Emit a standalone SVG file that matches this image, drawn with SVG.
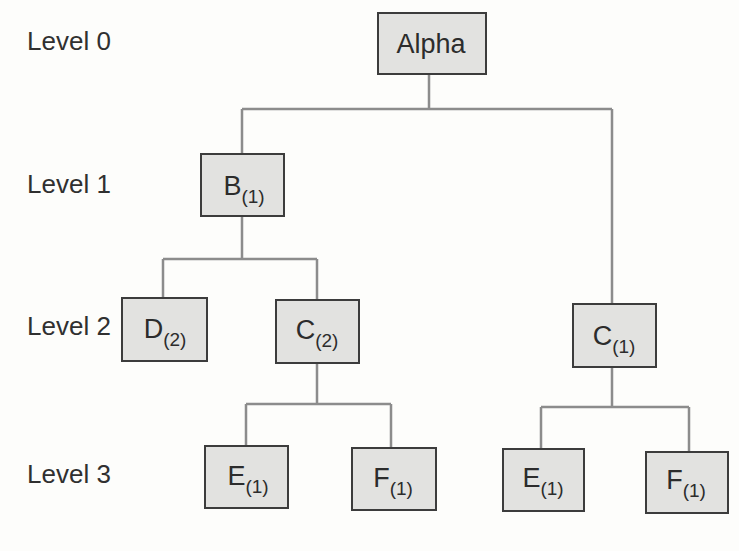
<svg xmlns="http://www.w3.org/2000/svg" width="739" height="551" viewBox="0 0 739 551">
  <style>
    .bg { fill: #fdfdfb; }
    .box { fill: #e2e2e0; stroke: #3c3c3c; stroke-width: 2; }
    .lbl { font-family: "Liberation Sans", Arial, sans-serif; font-size: 26px; fill: #303030; }
    .name { font-family: "Liberation Sans", Arial, sans-serif; font-size: 27px; fill: #2c2c2c; text-anchor: middle; }
    .sub { font-size: 19px; }
    .wire { fill: none; stroke: #8c8c8c; stroke-width: 2.5; }
    .rule { stroke: url(#fade); stroke-width: 3; }
  </style>
  <defs>
    <linearGradient id="fade" x1="0" y1="0" x2="1" y2="0">
      <stop offset="0" stop-color="#3a3a3a"/>
      <stop offset="0.5" stop-color="#555"/>
      <stop offset="1" stop-color="#8a8a8a"/>
    </linearGradient>
  </defs>

  <rect class="bg" x="0" y="0" width="739" height="551"/>

  <!-- level captions -->
  <g id="levels">
    <text class="lbl" x="27" y="50">Level 0</text>
    <text class="lbl" x="27" y="193">Level 1</text>
    <text class="lbl" x="27" y="335">Level 2</text>
    <text class="lbl" x="27" y="483">Level 3</text>
  </g>

  <!-- tree connectors -->
  <g id="connectors">
    <path class="wire" d="M429,74 V109 M242,109 H612 M242,109 V154 M612,109 V304"/>
    <path class="wire" d="M242,216 V259 M163,259 H317 M163,259 V298 M317,259 V300"/>
    <path class="wire" d="M317,363 V404 M246,404 H391 M246,404 V446 M391,404 V448"/>
    <path class="wire" d="M612,367 V407 M541,407 H689 M541,407 V449 M689,407 V452"/>
  </g>

  <g id="alpha">
    <rect class="box" x="378" y="13" width="108" height="61"/>
    <text class="name" x="431" y="53">Alpha</text>
  </g>

  <g id="b1">
    <rect class="box" x="201" y="154" width="83" height="62"/>
    <text class="name" x="244" y="195">B<tspan class="sub" dy="8">(1)</tspan></text>
  </g>

  <g id="d2">
    <rect class="box" x="122" y="298" width="85" height="63"/>
    <text class="name" x="165" y="338">D<tspan class="sub" dy="8">(2)</tspan></text>
  </g>

  <g id="c2">
    <rect class="box" x="276" y="300" width="83" height="63"/>
    <text class="name" x="317" y="339">C<tspan class="sub" dy="8">(2)</tspan></text>
  </g>

  <g id="c1">
    <rect class="box" x="573" y="304" width="83" height="63"/>
    <text class="name" x="614" y="345">C<tspan class="sub" dy="8">(1)</tspan></text>
  </g>

  <g id="e1-left">
    <rect class="box" x="205" y="446" width="83" height="62"/>
    <text class="name" x="248" y="485">E<tspan class="sub" dy="8">(1)</tspan></text>
  </g>

  <g id="f1-left">
    <rect class="box" x="352" y="448" width="84" height="62"/>
    <text class="name" x="393" y="487">F<tspan class="sub" dy="8">(1)</tspan></text>
  </g>

  <g id="e1-right">
    <rect class="box" x="503" y="449" width="81" height="62"/>
    <text class="name" x="543" y="487">E<tspan class="sub" dy="8">(1)</tspan></text>
  </g>

  <g id="f1-right">
    <rect class="box" x="646" y="452" width="82" height="61"/>
    <text class="name" x="686" y="489">F<tspan class="sub" dy="8">(1)</tspan></text>
  </g>

  <!-- closing rule under the figure -->
  <line class="rule" x1="4" y1="546" x2="739" y2="546"/>
</svg>
